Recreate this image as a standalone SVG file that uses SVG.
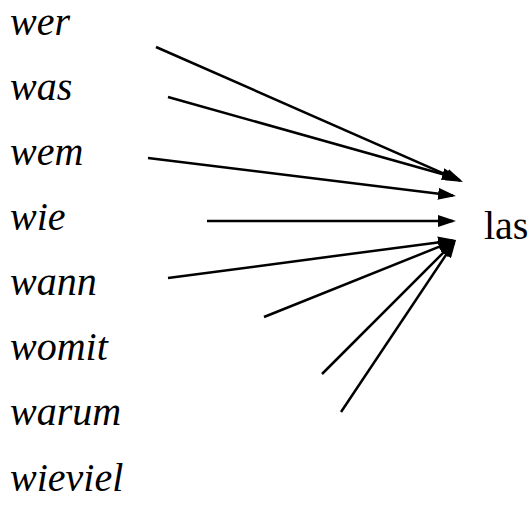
<svg xmlns="http://www.w3.org/2000/svg" width="531" height="519" viewBox="0 0 531 519">
<defs>
<marker id="ah" viewBox="0 0 18 12" refX="15" refY="6" markerWidth="18" markerHeight="12" markerUnits="userSpaceOnUse" orient="auto">
<path d="M0,0 L18,6 L0,12 z" fill="#000"/>
</marker>
</defs>
<g id="n-wer"><text x="10" y="35" font-family="Times New Roman" font-size="40" font-style="italic">wer</text></g>
<g id="n-was"><text x="10" y="100" font-family="Times New Roman" font-size="40" font-style="italic">was</text></g>
<g id="n-wem"><text x="10" y="165" font-family="Times New Roman" font-size="40" font-style="italic">wem</text></g>
<g id="n-wie"><text x="10" y="230" font-family="Times New Roman" font-size="40" font-style="italic">wie</text></g>
<g id="n-wann"><text x="10" y="295" font-family="Times New Roman" font-size="40" font-style="italic">wann</text></g>
<g id="n-womit"><text x="10" y="360" font-family="Times New Roman" font-size="40" font-style="italic">womit</text></g>
<g id="n-warum"><text x="10" y="425" font-family="Times New Roman" font-size="40" font-style="italic">warum</text></g>
<g id="n-wieviel"><text x="10" y="491" font-family="Times New Roman" font-size="40" font-style="italic">wieviel</text></g>
<g id="n-las"><text x="484" y="239" font-family="Times New Roman" font-size="40">las</text></g>
<g id="connectors" stroke="#000" stroke-width="2.5" fill="none" marker-end="url(#ah)">
<line x1="156" y1="47" x2="460.3" y2="180.8"/>
<line x1="168" y1="97" x2="457.1" y2="178.2"/>
<line x1="148" y1="158" x2="453" y2="195.6"/>
<line x1="207" y1="221" x2="453" y2="221"/>
<line x1="168" y1="278" x2="453" y2="240.4"/>
<line x1="264" y1="317" x2="453.2" y2="241.1"/>
<line x1="322" y1="374" x2="453.9" y2="242.1"/>
<line x1="341" y1="412" x2="454.3" y2="242.5"/>
</g>
</svg>
